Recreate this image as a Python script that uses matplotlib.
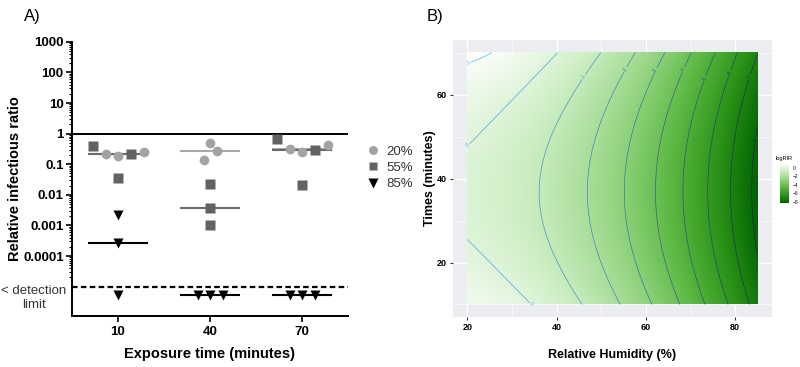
import numpy as np
import matplotlib
matplotlib.use("Agg")
import matplotlib.pyplot as plt
from matplotlib.colors import LinearSegmentedColormap, Normalize
from matplotlib.lines import Line2D
from matplotlib.ticker import FixedLocator, NullFormatter

plt.rcParams['font.family'] = ['Liberation Sans', 'DejaVu Sans']

# ---------------- Panel A data (NaN = below detection limit)
exposure_times = ['10', '40', '70']
rh20 = [[0.21, 0.18, 0.26], [0.49, 0.27, 0.135], [0.31, 0.25, 0.43]]
rh55 = [[0.40, 0.21, 0.036], [0.022, 0.0037, 0.001], [0.66, 0.29, 0.021]]
rh85 = [[0.0022, 0.00026, np.nan], [np.nan, np.nan, np.nan], [np.nan, np.nan, np.nan]]
series_labels = ['20%', '55%', '85%']

rh_grid = [20, 30, 40, 50, 60, 70, 80, 85]
time_grid = [10, 25, 40, 55, 70]
log_rir = [
    [0.75, 0.27, -0.48, -1.48, -2.78, -4.38, -6.33, -7.43],
    [0.02, -0.43, -1.18, -2.18, -3.48, -5.08, -7.03, -8.13],
    [-0.14, -0.59, -1.34, -2.34, -3.64, -5.24, -7.19, -8.29],
    [0.26, -0.21, -0.96, -1.96, -3.26, -4.86, -6.81, -7.91],
    [1.3, 0.74, -0.02, -1.02, -2.34, -3.94, -5.89, -6.99],
]

fig = plt.figure(figsize=(8, 3.67), dpi=100)

# ================= Panel A
ax1 = fig.add_axes([0.09, 0.139, 0.345, 0.747])
detection_limit = 1e-5
below_dl = 5.3e-6   # where the non-detects are drawn

# horizontal offsets of the points within a group (beeswarm-like)
offsets = {
    '20%': [[-0.13, 0, 0.28], [0, 0.075, -0.07], [-0.13, 0, 0.28]],
    '55%': [[-0.27, 0.14, 0], [0, 0, 0], [-0.27, 0.14, 0]],
    '85%': [[0, 0, 0], [-0.13, 0, 0.14], [-0.13, 0, 0.14]],
}
styles = {
    '20%': dict(marker='o', color='#a3a3a3', ms=7, line='#a8a8a8'),
    '55%': dict(marker='s', color='#626262', ms=6.5, line='#6a6a6a'),
    '85%': dict(marker='v', color='#000000', ms=7, line='#000000'),
}

ax1.axhline(1, color='black', lw=1.4, zorder=1)
ax1.axhline(detection_limit, color='black', lw=1.6, ls=(0, (2.5, 1.5)), zorder=1)

for lab, data in zip(series_labels, [rh20, rh55, rh85]):
    st = styles[lab]
    for i, vals in enumerate(data):
        v = np.array(vals, dtype=float)
        v = np.where(np.isnan(v), below_dl, v)
        xs = i + np.array(offsets[lab][i])
        med = np.median(v)
        ax1.hlines(med, i - 0.33, i + 0.33, color=st['line'], lw=1.5, zorder=2)
        ax1.plot(xs, v, ls='none', marker=st['marker'], ms=st['ms'],
                 color=st['color'], mec='none', zorder=3)

ax1.set_yscale('log')
ax1.set_ylim(1.1e-6, 1000)
ax1.set_xlim(-0.5, 2.5)
majors = [1e-4, 1e-3, 1e-2, 1e-1, 1, 10, 100, 1000]
ax1.yaxis.set_major_locator(FixedLocator(majors))
ax1.set_yticklabels(['0.0001', '0.001', '0.01', '0.1', '1', '10', '100', '1000'])
minors = [m * 10.0 ** e for e in range(-5, 3) for m in range(2, 10)]
ax1.yaxis.set_minor_locator(FixedLocator(minors))
ax1.yaxis.set_minor_formatter(NullFormatter())
ax1.set_xticks([0, 1, 2])
ax1.set_xticklabels(exposure_times)
for s in ['top', 'right']:
    ax1.spines[s].set_visible(False)
for s in ['left', 'bottom']:
    ax1.spines[s].set_linewidth(1.4)
ax1.tick_params(axis='both', which='major', width=1.2, length=4, labelsize=9.5, pad=2)
ax1.tick_params(axis='y', which='minor', width=0.8, length=2)
for t in ax1.get_xticklabels() + ax1.get_yticklabels():
    t.set_fontweight('bold')
ax1.tick_params(axis='x', pad=3.5)
ax1.set_ylabel('Relative infectious ratio', fontsize=10.5, fontweight='bold', labelpad=1)
ax1.set_xlabel('Exposure time (minutes)', fontsize=10.5, fontweight='bold', labelpad=6)
ax1.text(-0.02, 0.065, '< detection\nlimit', transform=ax1.transAxes, ha='right',
         va='center', multialignment='center', fontsize=9.5, color='#333333',
         linespacing=1.15)
handles = [Line2D([], [], ls='none', marker=styles[l]['marker'], ms=styles[l]['ms'] - 0.5,
                  color=styles[l]['color'], mec='none') for l in series_labels]
ax1.legend(handles, series_labels, loc='center left', bbox_to_anchor=(1.03, 0.54),
           frameon=False, fontsize=9.5, handlelength=0.8, handletextpad=0.6,
           labelspacing=0.3, labelcolor='#333333')
fig.text(0.03, 0.955, 'A)', fontsize=12, va='center')

# ================= Panel B
ax2 = fig.add_axes([0.566, 0.136, 0.399, 0.755], facecolor='#ebedf0')
R, T = np.meshgrid(rh_grid, time_grid)
Z = np.array(log_rir)
A = np.column_stack([np.ones(R.size), R.ravel(), T.ravel(), R.ravel() ** 2,
                     T.ravel() ** 2, (R * T).ravel()])
coef, *_ = np.linalg.lstsq(A, Z.ravel(), rcond=None)
rr, tt = np.meshgrid(np.linspace(20, 85, 260), np.linspace(10, 70, 240))
zz = (coef[0] + coef[1] * rr + coef[2] * tt + coef[3] * rr ** 2 +
      coef[4] * tt ** 2 + coef[5] * rr * tt)

greens = LinearSegmentedColormap.from_list(
    'wg', ['#006400', '#2b9317', '#5cb843', '#98d685', '#cdeec3', '#ffffff'])
norm = Normalize(zz.min(), zz.max())
ax2.imshow(zz, extent=[20, 85, 10, 70], origin='lower', aspect='auto',
           cmap=greens, norm=norm, zorder=2)
levels = np.arange(-8, 2)
line_cmap = LinearSegmentedColormap.from_list('gg', ['#132B43', '#56B1F7'])
cs = ax2.contour(rr, tt, zz, levels=levels, cmap=line_cmap, linewidths=0.5, zorder=3)
ax2.clabel(cs, fmt='%d', fontsize=3.5, inline=True, inline_spacing=1)

ax2.set_xlim(16.75, 88.25)
ax2.set_ylim(7, 73)
ax2.set_xticks([20, 40, 60, 80])
ax2.set_yticks([20, 40, 60])
ax2.set_xticks([30, 50, 70], minor=True)
ax2.set_yticks([10, 30, 50, 70], minor=True)
ax2.grid(which='major', color='white', lw=0.9, zorder=0)
ax2.grid(which='minor', color='white', lw=0.45, zorder=0)
ax2.set_axisbelow(True)
for s in ax2.spines.values():
    s.set_visible(False)
ax2.tick_params(which='major', length=2.5, width=0.8, color='#333333', labelsize=6.5, pad=2)
ax2.tick_params(which='minor', length=0)
for t in ax2.get_xticklabels() + ax2.get_yticklabels():
    t.set_fontweight('bold')
ax2.set_xlabel('Relative Humidity (%)', fontsize=9, fontweight='bold', labelpad=12)
ax2.set_ylabel('Times (minutes)', fontsize=9, fontweight='bold', labelpad=0.5)
fig.text(0.533, 0.955, 'B)', fontsize=12, va='center')

cax = fig.add_axes([0.975, 0.447, 0.011, 0.109])
cb = fig.colorbar(plt.cm.ScalarMappable(norm=norm, cmap=greens), cax=cax,
                  ticks=[0, -2, -4, -6, -8])
cb.outline.set_visible(False)
cax.tick_params(length=1.5, width=0.4, color='white', labelsize=3.5, pad=1.5)
cax.set_title('logRIR', fontsize=4, pad=2)

fig.savefig('out.png', dpi=100)
